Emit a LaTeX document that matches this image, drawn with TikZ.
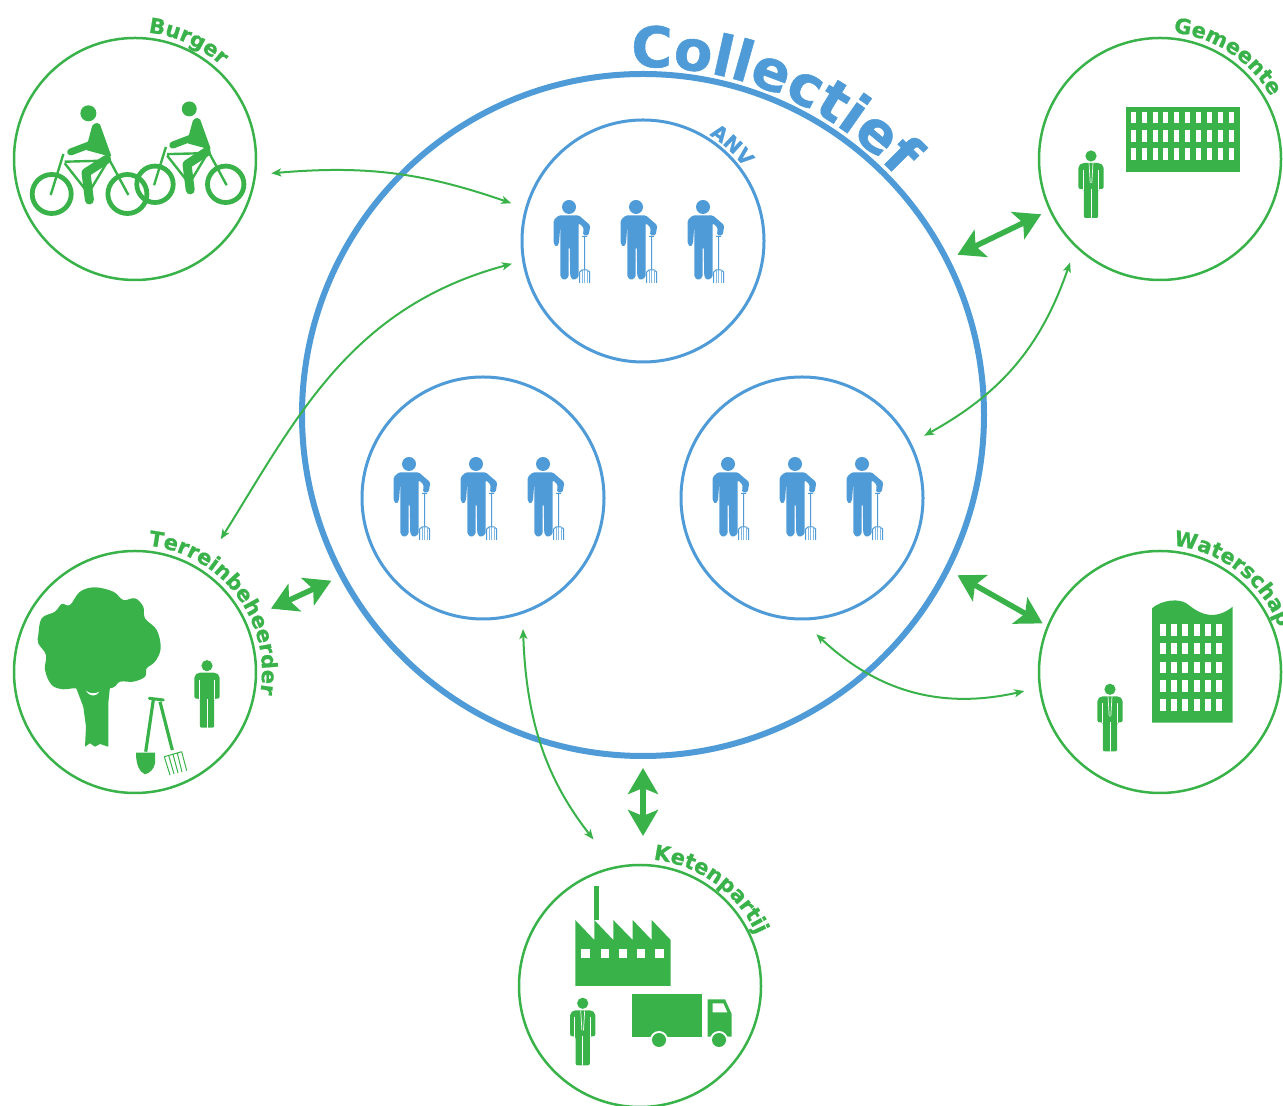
\documentclass[tikz,border=0pt]{standalone}
\usepackage{fontspec}
\setsansfont{DejaVu Sans}[BoldFeatures={FakeBold=0.9}]
\usetikzlibrary{arrows.meta, calc, decorations.text}
\definecolor{leaf}{RGB}{57,178,74}
\definecolor{sky}{RGB}{79,155,215}
\newcommand{\labelfont}{\sffamily\bfseries\fontsize{21}{25}\selectfont}
\newcommand{\anvfont}{\sffamily\bfseries\fontsize{20}{24}\selectfont}
\newcommand{\collfont}{\sffamily\bfseries\fontsize{56}{68}\selectfont}
\tikzset{
  x=1pt, y=1pt,
  actor/.style={circle, draw=leaf, line width=2.5pt, inner sep=0pt, minimum size=242pt, outer sep=16pt},
  group/.style={circle, draw=sky, line width=3pt, inner sep=0pt, minimum size=242pt, outer sep=16pt},
  whole/.style={circle, draw=sky, line width=6pt, inner sep=0pt, minimum size=682pt, outer sep=12pt},
  link/.style={<->, >={Stealth[length=10pt,width=8pt,inset=2.5pt]}, leaf, line width=2pt},
  bigl/.style={<->, >={Stealth[length=26pt,width=30pt,inset=6pt]}, leaf, line width=5.5pt},
  bowlabel/.style={decorate, decoration={text along path, text color=leaf, text={|\labelfont|#1}}},
  farmer/.pic={
    \fill[sky] (0,0) circle (7);
    \fill[sky, rounded corners=1.5pt] (-15.3,-36.7) -- (-15.3,-13) -- (-10,-8.3) -- (9.7,-8.3) -- (21.3,-18.3)
      -- (19.7,-28.3) -- (14,-28.3) -- (14.7,-20.7) -- (9.7,-16) -- (9.7,-70) -- (4.7,-73.3) -- (1.3,-70)
      -- (.7,-40) -- (-.3,-40) -- (-.3,-70) -- (-4.7,-73.3) -- (-8.7,-70) -- (-8.7,-18.3) -- (-10,-36.7) -- (-12.7,-40) -- cycle;
    \draw[sky, line width=1pt] (13,-29.5) -- (18,-29.5) (15.5,-29.5) -- (15.5,-63)
      (10.7,-76) -- (10.7,-65) -- (13,-63) -- (18,-63) -- (20.7,-65) -- (20.7,-76);
    \draw[sky!70, line width=.7pt] (13.2,-63.5) -- (13.2,-76) (15.7,-63) -- (15.7,-76) (18.2,-63.5) -- (18.2,-76);
  },
  man/.pic={
    \fill[leaf] (0,0) circle (5.6);
    \fill[leaf, rounded corners=2pt] (-12.6,-33) -- (-12.6,-10) -- (-9,-7) -- (9,-7) -- (12.6,-10) -- (12.6,-33)
      -- (7.2,-33) -- (7.2,-62) -- (-7.2,-62) -- (-7.2,-33) -- cycle;
    \draw[white, line width=.9pt] (-7.8,-14) -- (-7.8,-34) (7.8,-14) -- (7.8,-34) (0,-33) -- (0,-63);
  },
  suitman/.pic={
    \pic {man};
    \draw[white, line width=.7pt] (-2,-7) -- (-.8,-27) (2,-7) -- (.8,-27);
  },
  rider/.pic={
    \draw[leaf, line width=4.8pt] (0,0) circle (19.5) (75.7,0) circle (19.5);
    \draw[leaf, line width=2.4pt] (-1,-1) -- (11.7,40) (13,32.3) -- (52,33.3) (13,30.7) -- (36.7,.7)
      -- (56.7,34) (56.7,36) -- (76.7,-1);
    \fill[leaf] (36.7,80.7) circle (8);
    \fill[leaf, rounded corners=2pt] (41,70) -- (47.7,71.3) -- (60,37) -- (34,44) -- cycle;
    \draw[leaf, line width=7pt, line cap=round] (40,50) -- (19,42);
    \draw[leaf, line width=9pt, line cap=round, line join=round] (55,34.7) -- (34.3,21.3) -- (37.7,-6);
  },
}
\begin{document}
\begin{tikzpicture}
  \useasboundingbox (0,0) rectangle (1283,1106);

  % the whole group and the three inside it
  \node[whole]                                (coll) at (643,691) {};
  \node[group]                                (anv)  at (643,865) {};
  \node[group]                                (lv)   at (483,608) {};
  \node[group,right of=lv,node distance=319pt] (rv) {};

  % the five parties around it
  \node[actor]                                      (burger)   at (135,947) {};
  \node[actor,right of=burger,node distance=1025pt] (gemeente) {};
  \node[actor,below of=burger,node distance=513pt]  (terrein)  {};
  \node[actor,right of=terrein,node distance=1025pt] (water)   {};
  \node[actor]                                      (keten)    at (640,120) {};

  % curved titles
  \path[decorate, decoration={text along path, text color=sky, text={|\collfont|Collectief}}]
    ($(coll.center)+(92:348)$) arc (92:20:348);
  \path[decorate, decoration={text along path, text color=sky, text={|\anvfont|ANV}}]
    ($(anv.center)+(58:125)$) arc (58:0:125);
  \path[bowlabel=Burger]           ($(burger.center)+(84:127)$)   arc (84:-30:127);
  \path[bowlabel=Gemeente]         ($(gemeente.center)+(84:127)$) arc (84:-30:127);
  \path[bowlabel=Terreinbeheerder] ($(terrein.center)+(84:127)$)  arc (84:-30:127);
  \path[bowlabel=Waterschap]       ($(water.center)+(84:127)$)    arc (84:-30:127);
  \path[bowlabel=Ketenpartij]      ($(keten.center)+(84:127)$)    arc (84:-30:127);

  % farmers
  \foreach \grp in {anv,lv,rv}
    \foreach \dx in {-74,-7,60}
      \pic at ($(\grp.center)+(\dx,34)$) {farmer};

  % cyclists
  \pic at (51.7,912) {rider};
  \pic[scale=.934] at (155,921.7) {rider};

  % people
  \pic at ($(terrein.center)+(72,6.3)$) {man};
  \pic at ($(gemeente.center)+(-69,3)$) {suitman};
  \pic at ($(water.center)+(-50,-17.3)$) {suitman};
  \pic at ($(keten.center)+(-57.3,-17.3)$) {suitman};

  % town hall
  \fill[leaf] (1125.7,933.7) rectangle (1240,999.3);
  \foreach \col in {0,...,9}
    \foreach \row in {0,1,2}
      \fill[white] (1130.7+10.9*\col,994.3-18.3*\row) rectangle ++(5,-11.7);

  % water board building
  \fill[leaf] (1152,383.3) -- (1152,497.7) .. controls (1160,505) and (1180,510) .. (1190,500)
    .. controls (1200,492) and (1215,485) .. (1232.7,499.3) -- (1232.7,383.3) -- cycle;
  \foreach \col in {0,...,5}
    \foreach \row in {0,...,4}
      \fill[white] (1160+11.17*\col,482-18.8*\row) rectangle ++(6,-11.7);

  % factory
  \fill[leaf] (594,186) rectangle (599.3,220);
  \fill[leaf] (575.3,120) -- (575.3,186) -- (594.3,166) -- (594.3,186) -- (613.3,166) -- (613.3,186) -- (632.7,166)
    -- (632.7,186) -- (651.7,166) -- (651.7,186) -- (670.7,166) -- (670.7,120) -- cycle;
  \foreach \wx in {581.3,600.7,618.7,637,655.3}
    \fill[white] (\wx,156.7) rectangle ++(8.3,-8.4);

  % truck
  \fill[leaf] (631.7,69.3) rectangle (702.3,112);
  \fill[leaf] (707.7,106.7) -- (725,106.7) -- (731.7,92) -- (731.7,69.3) -- (707.7,69.3) -- cycle;
  \fill[white] (712.7,102.7) -- (723.3,102.7) -- (727.3,93.7) -- (712.7,93.7) -- cycle;
  \foreach \wx in {659,719} {
    \fill[white] (\wx,66) circle (9);
    \fill[leaf] (\wx,66) circle (7);
  }

  % tree
  \fill[leaf] plot[smooth cycle, tension=.6] coordinates {(38.3,471) (41.7,487.7) (55,494.3) (61.7,502) (70,501) (80,514.3)
    (95,518.7) (113.3,514.3) (123.3,506) (135,507.7) (143.3,499.3) (145,487.7) (156.7,476) (160.7,457.7) (155,444.3)
    (146.7,437.7) (145,429.3) (133.3,424.3) (120,424.3) (110,417.7) (75,417.7) (63.3,416.7) (51.7,421) (45,436) (46,451) (38.3,462.7)};
  \fill[leaf] (75,421) -- (83.3,399.3) -- (86,379.3) -- (85,359.3) -- (90,362.7) -- (95,359.3) -- (100,362)
    -- (108.3,359.3) -- (108.3,402.7) -- (110,419.3) -- cycle;
  \fill[white] (86,415.3) .. controls (90,409) and (96,409) .. (99.3,414.3) .. controls (95,412) and (90,412) .. cycle;

  % spade and fork
  \draw[leaf, line width=3.2pt] (153.3,406) -- (145.7,354.3) (160,404.3) -- (172.3,356);
  \draw[leaf, line width=3pt, line cap=round] (149.3,407.7) -- (163.3,406);
  \fill[leaf] (136,353.3) -- (155,353.3) -- (155,342.7) .. controls (154,337) and (150,333) .. (145,331.7)
    .. controls (140,334) and (136,340) .. (136,353.3) -- cycle;
  \draw[leaf, line width=1pt] (164.3,349.3) -- (181.7,354.3)
    (164.3,349.3) -- (170,331) (168.7,350.5) -- (174,332) (173,351.7) -- (178,333) (177.3,353) -- (182,334) (181.7,354.3) -- (186.7,335.3);

  % links between the parties and the groups
  \draw[link] (burger.-6) to[bend left=12] (anv.164);
  \draw[link, shorten <=21pt, shorten >=-4pt] (terrein.57.6) to[out=58,in=195] (anv.190.9);
  \draw[link] (gemeente.229) to[bend left=21] (rv.27.7);
  \draw[link] (rv.-84) to[bend right=28] (water.188);
  \draw[link, shorten >=18pt] (lv.-73.6) to[bend right=18] (keten.105.5);

  % links with the whole group
  \draw[bigl, shorten >=-6pt] (coll.27.4) -- (gemeente.205.8);
  \draw[bigl, shorten >=-10pt] (coll.-27.5) -- (water.157.9);
  \draw[bigl, shorten >=13pt] (coll.208.5) -- (terrein.25.7);
  \draw[bigl, shorten >=13pt] (coll.-90) -- (coll.-90 |- keten.90);
\end{tikzpicture}
\end{document}
